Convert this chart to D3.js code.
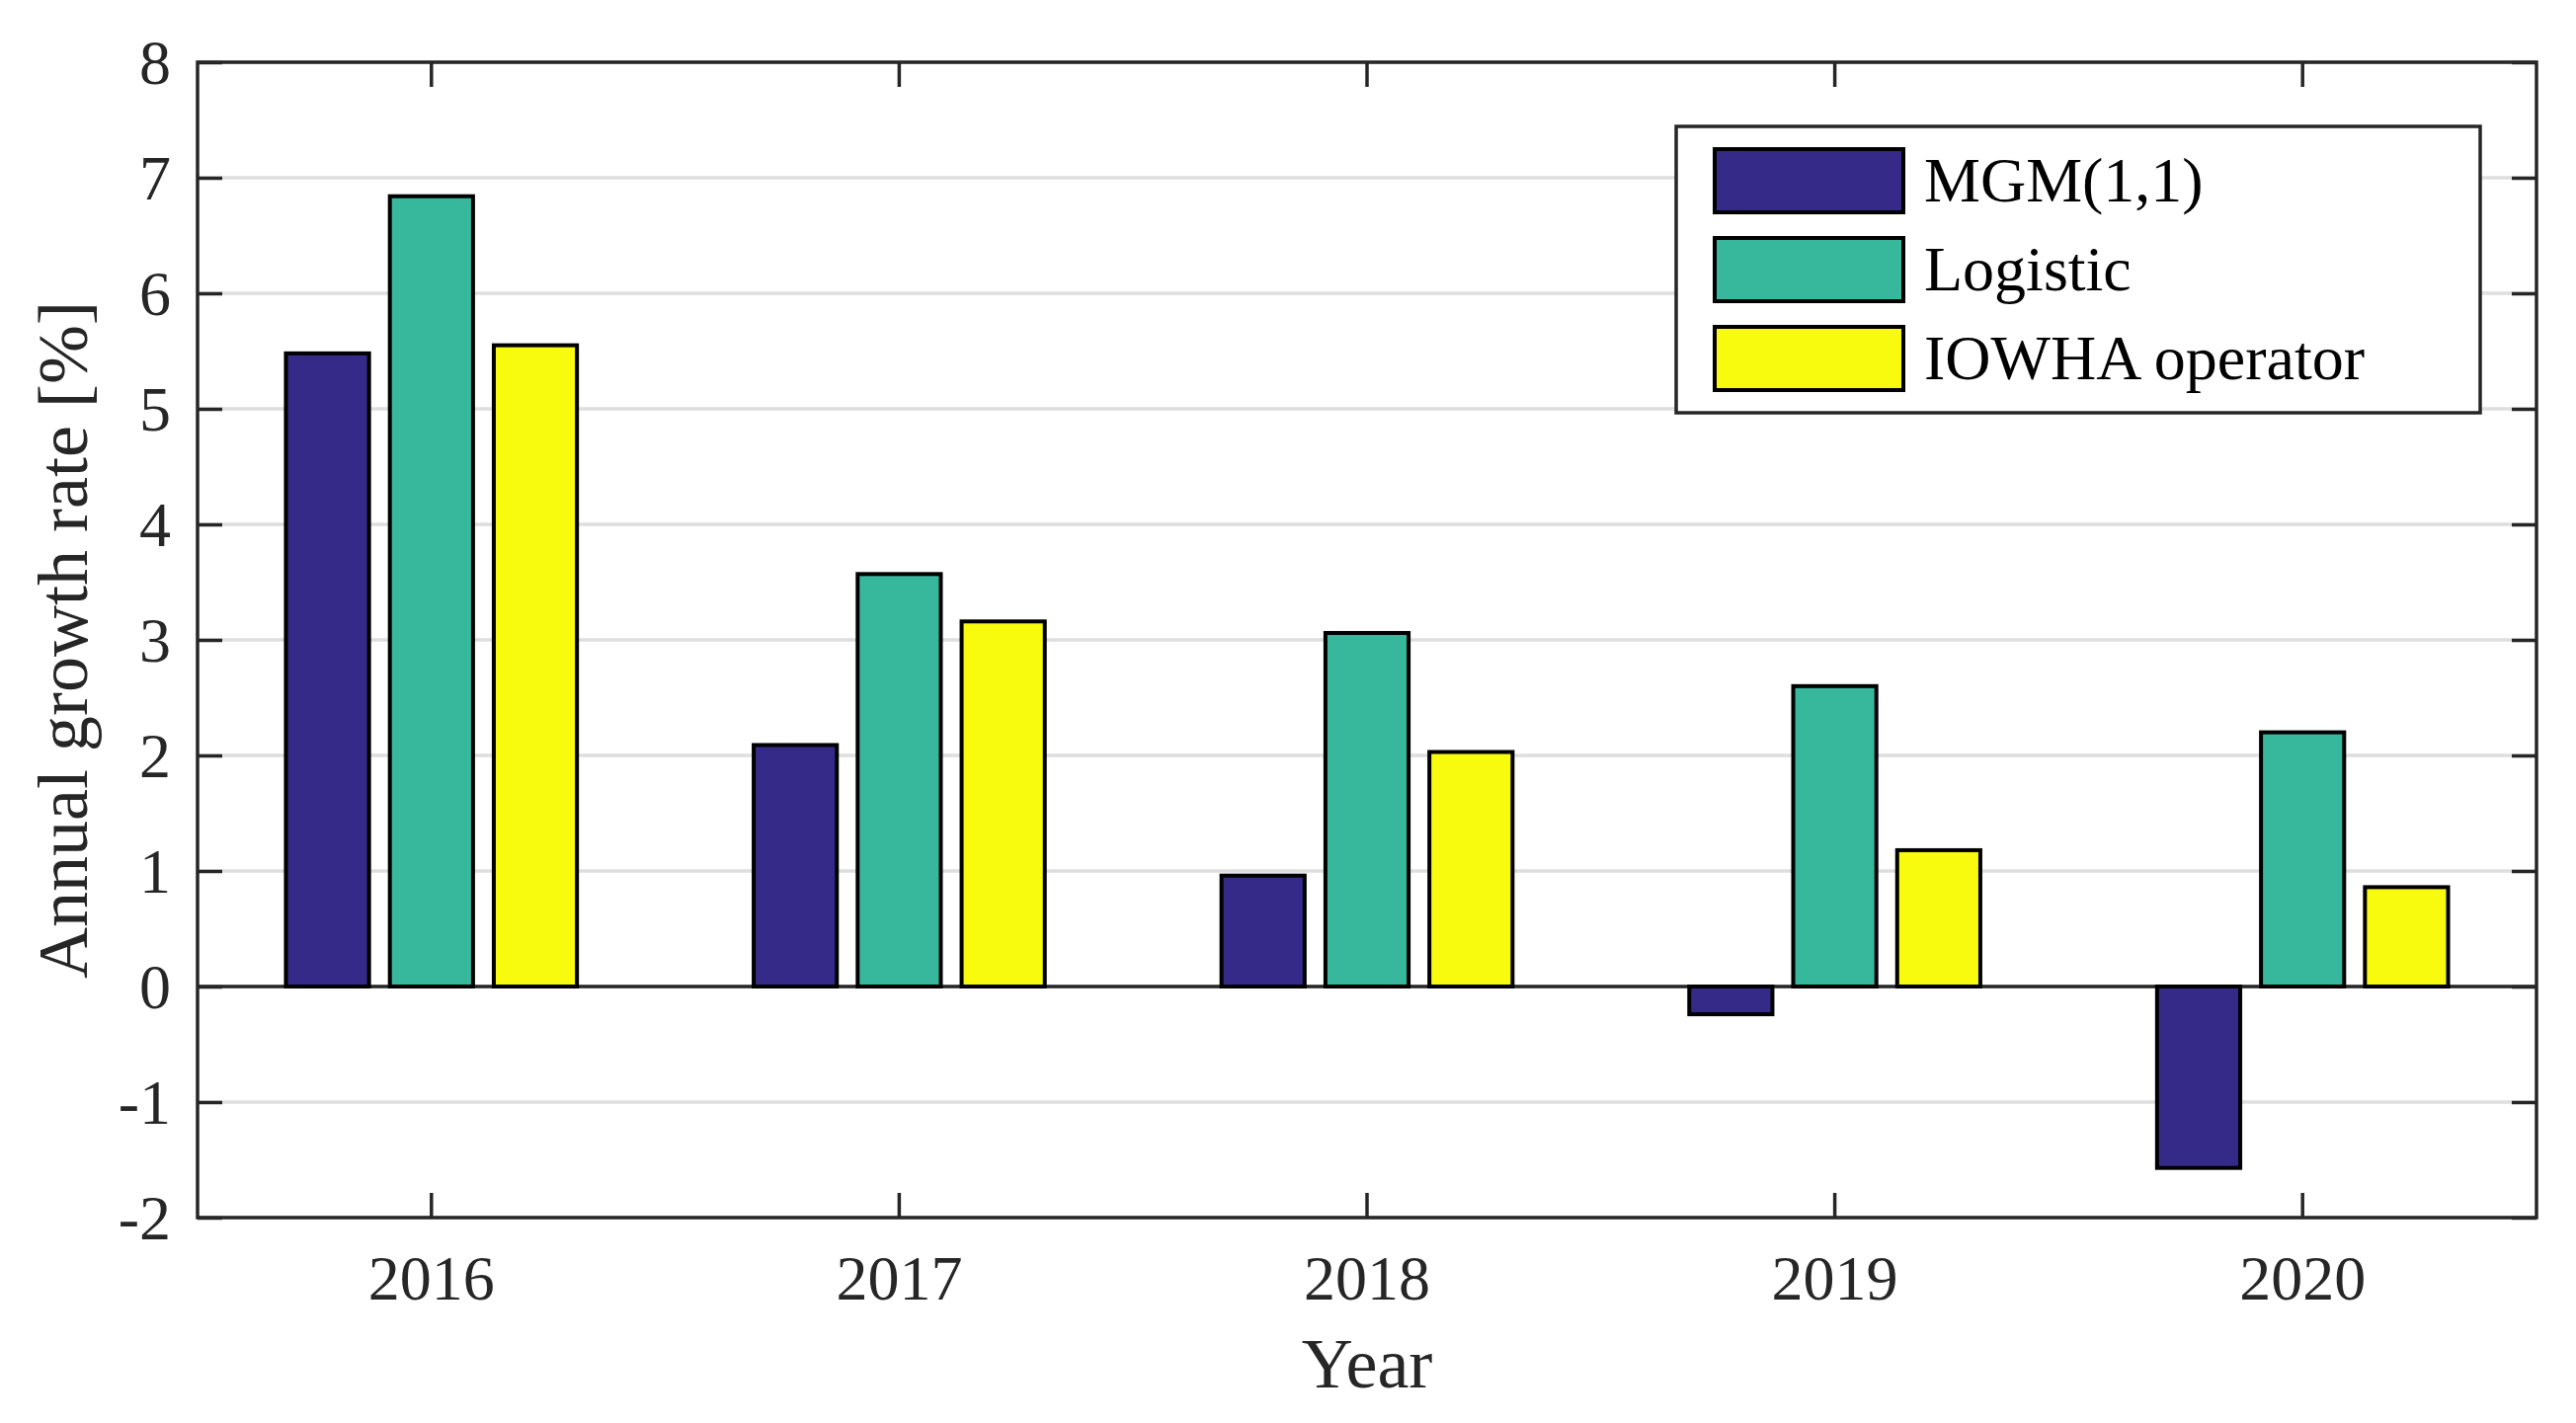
<!DOCTYPE html>
<html>
<head>
<meta charset="utf-8">
<script src="https://cdn.jsdelivr.net/npm/d3@7"></script>
<style>
  html, body { margin: 0; padding: 0; background: #ffffff; }
  svg text { font-family: "Liberation Serif", "Times New Roman", serif; fill: #262626; }
</style>
</head>
<body>
<svg id="chart" width="2608" height="1441"></svg>
<script>
// ---- data ----
const years = ["2016", "2017", "2018", "2019", "2020"];
const seriesNames = ["MGM(1,1)", "Logistic", "IOWHA operator"];
const mgm      = [5.48, 2.09, 0.96, -0.24, -1.57];
const logistic = [6.84, 3.57, 3.06, 2.60, 2.20];
const iowha    = [5.55, 3.16, 2.03, 1.18, 0.86];
const yTicks = [-2, -1, 0, 1, 2, 3, 4, 5, 6, 7, 8];
const yTickLabels = ["-2", "-1", "0", "1", "2", "3", "4", "5", "6", "7", "8"];
const colors = ["#352a87", "#37b89d", "#f9fb0e"];

const seriesValues = [mgm, logistic, iowha];

// ---- layout ----
const svg = d3.select("#chart");
const L = 200, R = 2568, T = 63, B = 1233;
const axisColor = "#262626";

const x = d3.scaleBand().domain(years).range([L, R]).paddingInner(0).paddingOuter(0);
const y = d3.scaleLinear().domain([-2, 8]).range([B, T]);

const bw = x.bandwidth();
const groupWidth = Math.min(0.8, 3 / (3 + 1.5));
const slot = groupWidth / 3;
const barW = slot * 0.8;

// background
svg.append("rect").attr("x", 0).attr("y", 0).attr("width", 2608).attr("height", 1441).attr("fill", "#fff");

// gridlines
svg.append("g").selectAll("line").data(yTicks).join("line")
  .attr("x1", L).attr("x2", R)
  .attr("y1", d => y(d)).attr("y2", d => y(d))
  .attr("stroke", "#dedede").attr("stroke-width", 3.5);

// zero baseline
svg.append("line")
  .attr("x1", L).attr("x2", R).attr("y1", y(0)).attr("y2", y(0))
  .attr("stroke", axisColor).attr("stroke-width", 3.5);

// bars
const barData = [];
seriesValues.forEach((vals, s) => {
  vals.forEach((v, i) => barData.push({ s, year: years[i], v }));
});
svg.append("g").selectAll("rect").data(barData).join("rect")
  .attr("x", d => x(d.year) + bw / 2 + (d.s - 1) * slot * bw - barW * bw / 2)
  .attr("width", barW * bw)
  .attr("y", d => y(Math.max(0, d.v)))
  .attr("height", d => Math.abs(y(d.v) - y(0)))
  .attr("fill", d => colors[d.s])
  .attr("stroke", "#000").attr("stroke-width", 4);

// axes (box + inward ticks)
const tickLen = 25;
const axisG = svg.append("g");
// left axis
const yAxisL = d3.axisLeft(y).tickValues(yTicks).tickSize(-tickLen)
  .tickFormat((d, i) => yTickLabels[i]);
const gl = axisG.append("g").attr("transform", `translate(${L},0)`).call(yAxisL);
gl.select(".domain").remove();
gl.selectAll(".tick line").attr("stroke", axisColor).attr("stroke-width", 3.5);
gl.selectAll(".tick text").attr("font-size", 64).attr("fill", axisColor)
  .attr("font-family", "Liberation Serif").attr("x", -27).attr("dy", "0.34em");
// right axis ticks
const yAxisR = d3.axisRight(y).tickValues(yTicks).tickSize(-tickLen).tickFormat("");
const gr = axisG.append("g").attr("transform", `translate(${R},0)`).call(yAxisR);
gr.select(".domain").remove();
gr.selectAll(".tick line").attr("stroke", axisColor).attr("stroke-width", 3.5);
// bottom axis
const xAxisB = d3.axisBottom(x).tickSize(-tickLen).tickPadding(0);
const gb = axisG.append("g").attr("transform", `translate(0,${B})`).call(xAxisB);
gb.select(".domain").remove();
gb.selectAll(".tick line").attr("stroke", axisColor).attr("stroke-width", 3.5);
gb.selectAll(".tick text").attr("font-size", 64).attr("fill", axisColor)
  .attr("font-family", "Liberation Serif").attr("y", 83).attr("dy", 0);
// top axis ticks
const xAxisT = d3.axisTop(x).tickSize(-tickLen).tickFormat("");
const gt = axisG.append("g").attr("transform", `translate(0,${T})`).call(xAxisT);
gt.select(".domain").remove();
gt.selectAll(".tick line").attr("stroke", axisColor).attr("stroke-width", 3.5);

// box
svg.append("rect").attr("x", L).attr("y", T).attr("width", R - L).attr("height", B - T)
  .attr("fill", "none").attr("stroke", axisColor).attr("stroke-width", 3.5);

// axis labels
svg.append("text").attr("x", (L + R) / 2).attr("y", 1405)
  .attr("text-anchor", "middle").attr("font-size", 72).text("Year");
svg.append("text").attr("transform", `translate(88,${(T + B) / 2}) rotate(-90)`)
  .attr("text-anchor", "middle").attr("font-size", 72).text("Annual growth rate [%]");

// legend
const lg = svg.append("g");
lg.append("rect").attr("x", 1697).attr("y", 128).attr("width", 2511 - 1697).attr("height", 418 - 128)
  .attr("fill", "#fff").attr("stroke", axisColor).attr("stroke-width", 3.5);
const rows = lg.selectAll("g.row").data(seriesNames).join("g").attr("class", "row")
  .attr("transform", (d, i) => `translate(0,${183 + i * 90})`);
rows.append("rect").attr("x", 1736).attr("y", -32).attr("width", 191).attr("height", 64)
  .attr("fill", (d, i) => colors[i]).attr("stroke", "#000").attr("stroke-width", 4);
rows.append("text").attr("x", 1948).attr("y", 0).attr("dy", "0.33em")
  .attr("font-size", 64).style("fill", "#000").text(d => d);
</script>
</body>
</html>
